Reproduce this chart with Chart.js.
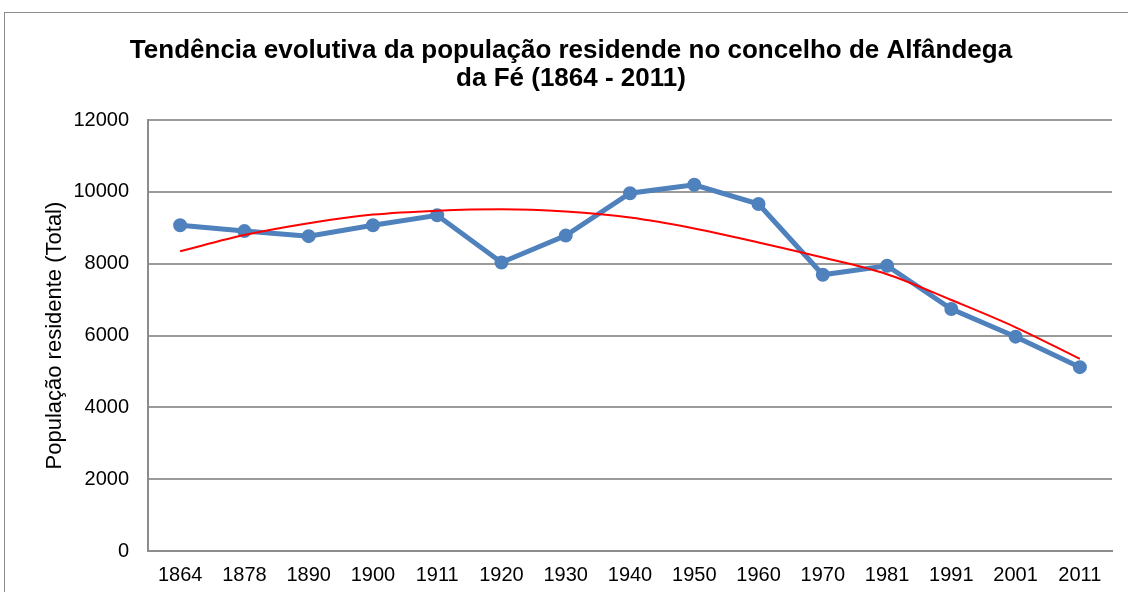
<!DOCTYPE html>
<html lang="pt">
<head>
<meta charset="utf-8">
<title>População residente - Alfândega da Fé</title>
<script src="https://cdn.jsdelivr.net/npm/chart.js@4/dist/chart.umd.min.js"></script>
<style>
  html, body { margin: 0; padding: 0; background: #fff; overflow: hidden; }
  #moldura {
    position: absolute; left: 4px; top: 12px; width: 1200px; height: 700px;
    border: 1px solid #8c8c8c;
  }
  #grafico { position: absolute; left: 0; top: 0; }
</style>
</head>
<body>
<div id="moldura"></div>
<canvas id="grafico" width="1128" height="592"></canvas>
<script>
// Anos dos recenseamentos
const anos = ["1864", "1878", "1890", "1900", "1911", "1920", "1930", "1940",
              "1950", "1960", "1970", "1981", "1991", "2001", "2011"];

// População residente (Total)
const populacao = [9075, 8910, 8770, 9075, 9350, 8035, 8785, 9965,
                   10200, 9665, 7695, 7945, 6740, 5970, 5120];

// Linha de tendência (polinomial)
const tendencia = [8350, 8800, 9130, 9370, 9480, 9520, 9455, 9290,
                   8985, 8595, 8175, 7710, 6990, 6230, 5350];

const titulo = ["Tendência evolutiva da população residende no concelho de Alfândega",
                "da Fé (1864 - 2011)"];
const tituloEixoY = "População residente (Total)";

const fonte = "'Liberation Sans', Arial, sans-serif";

const ctx = document.getElementById('grafico').getContext('2d');
const grafico = new Chart(ctx, {
    type: 'line',
    data: {
        labels: anos,
        datasets: [{
            label: 'População residente',
            data: populacao,
            borderColor: '#4f81bd',
            backgroundColor: '#4f81bd',
            borderWidth: 5,
            pointRadius: 4.5,
            pointHoverRadius: 4.5,
            tension: 0,
            order: 2
        }, {
            label: 'Tendência',
            data: tendencia,
            borderColor: '#ff0000',
            borderWidth: 2,
            pointRadius: 0,
            tension: 0.4,
            cubicInterpolationMode: 'monotone',
            order: 1
        }]
    },
    options: {
        responsive: false,
        animation: false,
        layout: { padding: { top: 0, right: 16, bottom: 0, left: 30 } },
        plugins: {
            legend: { display: false },
            tooltip: { enabled: false },
            title: {
                display: true,
                text: titulo,
                color: '#000',
                font: { family: fonte, size: 26, weight: 'bold', lineHeight: 1.08 },
                padding: { top: 37, bottom: 27 }
            }
        },
        scales: {
            x: {
                offset: true,
                afterFit: function(escala) { escala.height = 41; },
                grid: { display: false, drawTicks: false },
                border: { color: '#8c8c8c', width: 2 },
                ticks: {
                    color: '#000',
                    padding: 12,
                    maxRotation: 0,
                    autoSkip: false,
                    font: { family: fonte, size: 20 }
                }
            },
            y: {
                min: 0,
                max: 12000,
                afterFit: function(escala) { escala.width = 118; },
                grid: { color: '#9a9a9a', lineWidth: 2, drawTicks: false },
                border: { color: '#8c8c8c', width: 2 },
                ticks: {
                    stepSize: 2000,
                    color: '#000',
                    padding: 19,
                    font: { family: fonte, size: 20 },
                    callback: function(valor) { return String(valor); }
                },
                title: {
                    display: true,
                    text: tituloEixoY,
                    color: '#000',
                    font: { family: fonte, size: 22 },
                    padding: { top: 12, bottom: 0 }
                }
            }
        }
    }
});
</script>
</body>
</html>
